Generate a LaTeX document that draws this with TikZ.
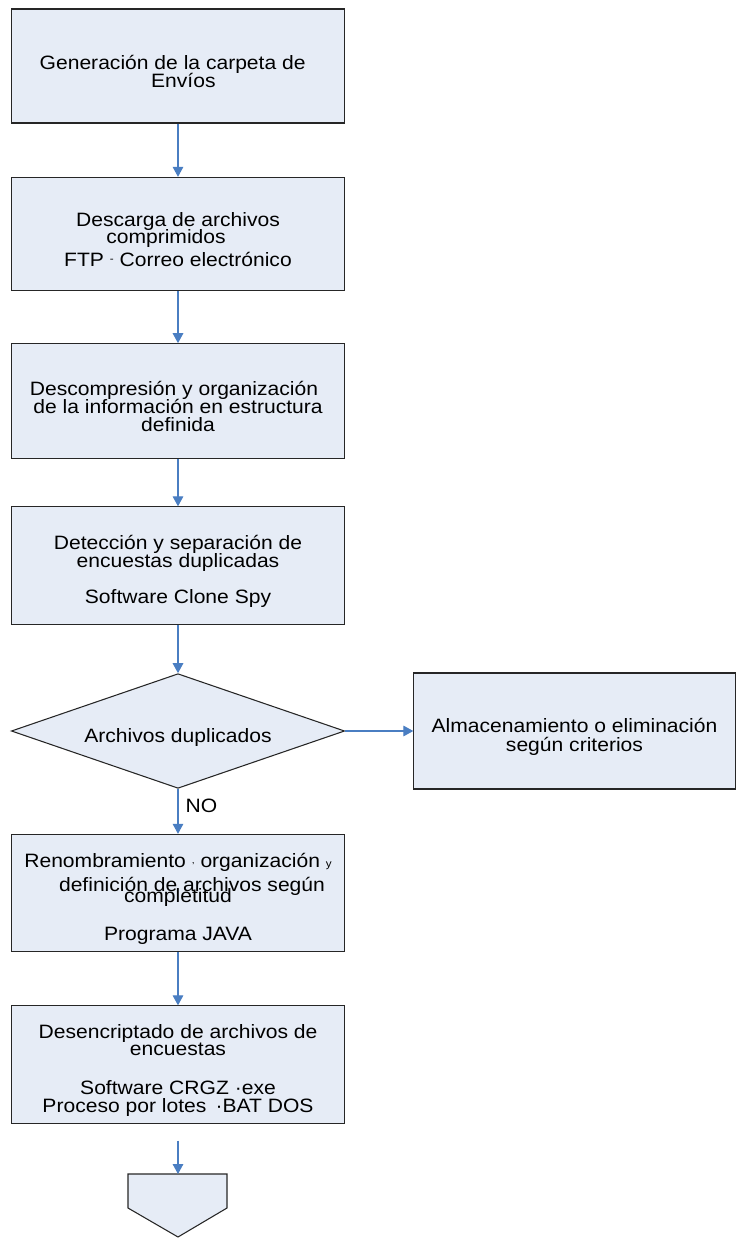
\documentclass[tikz,border=0pt]{standalone}
\usepackage{fontspec}
\setmainfont{Liberation Sans}[FakeStretch=1.09]
\usetikzlibrary{shapes.geometric,arrows.meta}
\definecolor{fondocaja}{HTML}{E6ECF6}
\definecolor{azulflecha}{HTML}{4A7EC2}
\newcommand\letracaja{\fontsize{14.5}{13.5}\selectfont\setlength{\lineskiplimit}{-20pt}}
\newcommand\alto{\rule{0pt}{19.5pt}}
\begin{document}
\begin{tikzpicture}[x=0.75pt,y=-0.75pt,
  caja/.style={draw=black!85,fill=fondocaja,line width=0.8pt,minimum width=250pt,align=center,inner sep=0pt},
  rombo/.style={diamond,aspect=2.9,draw=black!85,fill=fondocaja,line width=0.8pt,minimum width=250pt,minimum height=86pt,inner sep=0pt},
  flecha/.style={draw=azulflecha,line width=0.8pt,-{Triangle[width=8pt,length=7.5pt]}},
  font=\letracaja]
\useasboundingbox (0,0) rectangle (736,1238);
% cajas del proceso
\node[caja,minimum height=85.5pt] (gen) at (178,66) {\alto Generación de la carpeta de\hspace{8pt}\mbox{}\\\mbox{}\hspace{8pt}Envíos};
\node[caja,minimum height=85pt] (desc) at (178,234) {\alto Descarga de archivos\\[-0.75pt]comprimidos\hspace{18pt}\mbox{}\\[3.75pt]FTP \raisebox{3pt}{\footnotesize -} Correo electrónico};
\node[caja,minimum height=86pt] (descomp) at (178,401) {\alto Descompresión y organización\hspace{6pt}\mbox{}\\de la información en estructura\\definida};
\node[caja,minimum height=88pt] (detec) at (178,565.5) {\alto Detección y separación de\\encuestas duplicadas\\[13.5pt]Software Clone Spy};
\node[rombo] (dup) at (178,731) {\alto Archivos duplicados};
\node[caja,minimum width=241pt,minimum height=87pt] (alm) at (574.5,731) {\alto Almacenamiento o eliminación\\[0.5pt]según criterios};
\node[caja,minimum height=88pt] (renom) at (178,893) {\alto Renombramiento \raisebox{3pt}{\scriptsize ,} organización {\footnotesize y}\\[4.5pt]\mbox{}\hspace{21pt}definición de archivos según\\[-5.25pt]completitud\\[15.5pt]Programa JAVA};
\node[caja,minimum height=88pt] (desen) at (178,1064.5) {\alto Desencriptado de archivos de\\[-0.75pt]encuestas\\[15.5pt]Software CRGZ ·exe\\Proceso por lotes \,·BAT DOS};
% conector fuera de pagina
\draw[draw=black!85,fill=fondocaja,line width=0.8pt] (128,1174) -- (227,1174) -- (227,1208) -- (178,1237) -- (128,1208) -- cycle;
\coordinate (fin) at (178,1174);
\node[anchor=west] (no) at (181,806) {NO};
% flechas
\draw[flecha] (gen) -- (desc);
\draw[flecha] (desc) -- (descomp);
\draw[flecha] (descomp) -- (detec);
\draw[flecha] (detec) -- (dup);
\draw[flecha] (dup) -- (alm);
\draw[flecha] (dup) -- (renom);
\draw[flecha] (renom) -- (desen);
\draw[flecha,shorten <=12.75pt] (desen) -- (fin);
\end{tikzpicture}
\end{document}
